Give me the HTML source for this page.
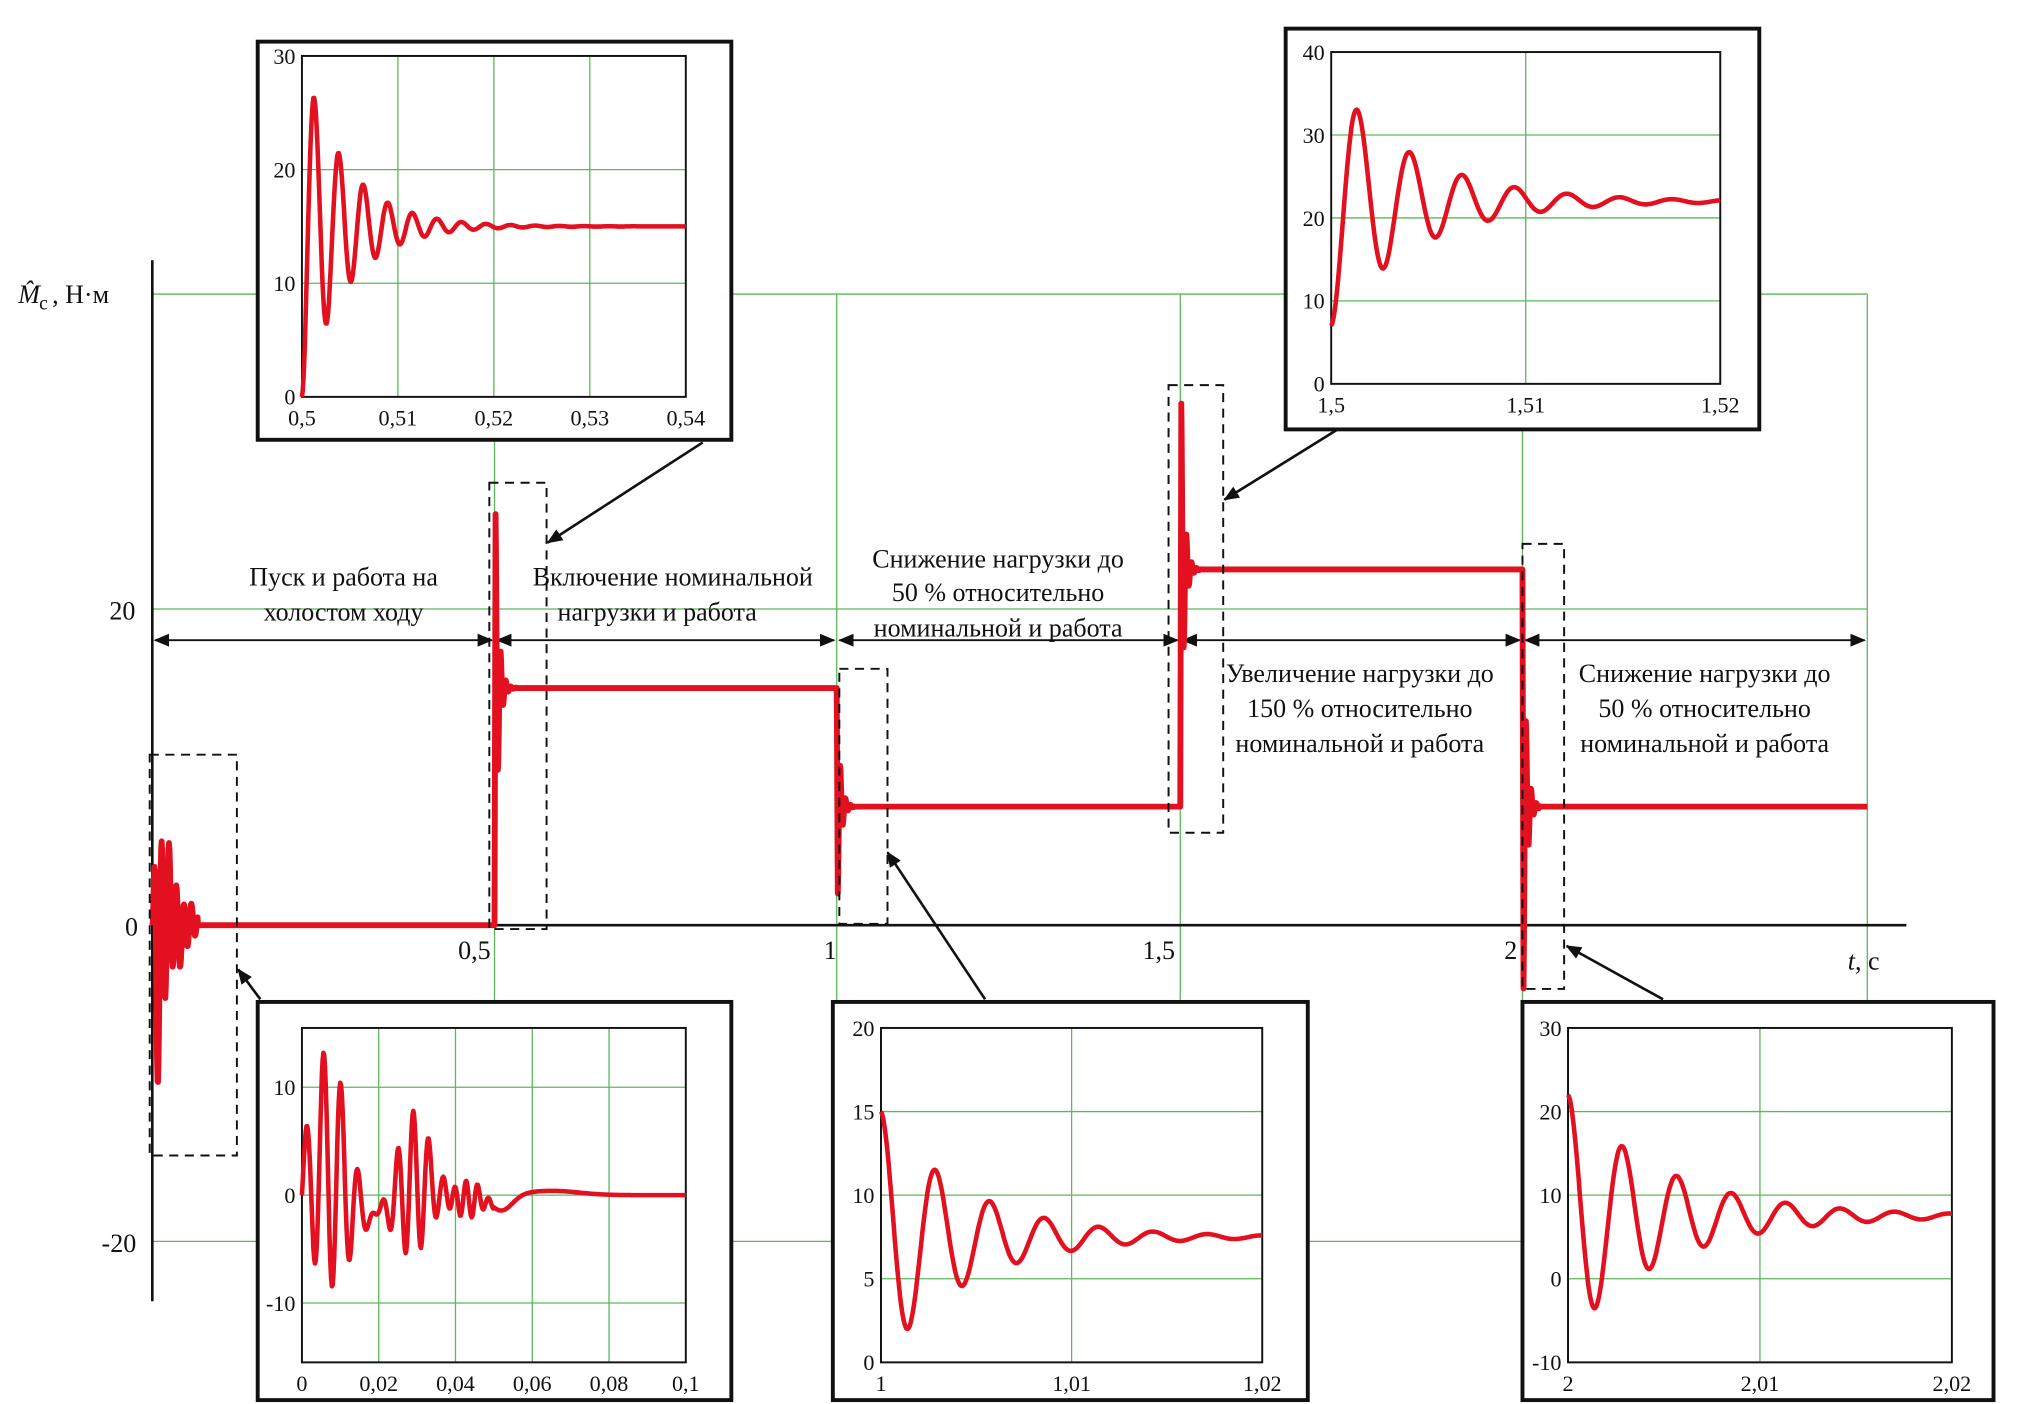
<!DOCTYPE html>
<html><head><meta charset="utf-8">
<style>
html,body{margin:0;padding:0;background:#fff;}
svg{display:block;}
text{font-family:"Liberation Serif",serif;fill:#111;}
</style></head>
<body>
<svg id="s" width="2017" height="1404" viewBox="0 0 1550 1079" xmlns="http://www.w3.org/2000/svg">
<defs>
<marker id="ae" markerWidth="12" markerHeight="10" refX="11" refY="5" orient="auto" markerUnits="userSpaceOnUse"><path d="M0,0 L12,5 L0,10 Z" fill="#111"/></marker>
<marker id="as" markerWidth="12" markerHeight="10" refX="1" refY="5" orient="auto" markerUnits="userSpaceOnUse"><path d="M12,0 L0,5 L12,10 Z" fill="#111"/></marker>
</defs>
<g stroke="#5cb85c" stroke-width="1" fill="none">
<line x1="117" y1="226" x2="1435" y2="226"/>
<line x1="117" y1="468" x2="1435" y2="468"/>
<line x1="117" y1="954" x2="1435" y2="954"/>
<line x1="380" y1="226" x2="380" y2="954"/>
<line x1="643" y1="226" x2="643" y2="954"/>
<line x1="907" y1="226" x2="907" y2="954"/>
<line x1="1170" y1="226" x2="1170" y2="954"/>
<line x1="1435" y1="226" x2="1435" y2="954"/>
</g>
<g stroke="#111" stroke-width="2" fill="none">
<line x1="117" y1="200" x2="117" y2="1000"/>
<line x1="117" y1="711" x2="1465" y2="711"/>
</g>
<text x="14" y="233" font-size="20" font-style="italic">M̂</text><text x="30" y="238" font-size="15">c</text><text x="40" y="233" font-size="20">, Н·м</text>
<text x="84" y="476" font-size="20">20</text>
<text x="96" y="719" font-size="20">0</text>
<text x="78" y="962" font-size="20">-20</text>
<text x="352" y="737" font-size="20">0,5</text>
<text x="633" y="737" font-size="20">1</text>
<text x="878" y="737" font-size="20">1,5</text>
<text x="1156" y="737" font-size="20">2</text>
<text x="1420" y="745" font-size="20"><tspan font-style="italic">t</tspan>, с</text>
<g stroke="#111" stroke-width="1.5" marker-start="url(#as)" marker-end="url(#ae)">
<line x1="119" y1="492" x2="378" y2="492"/>
<line x1="382" y1="492" x2="641" y2="492"/>
<line x1="645" y1="492" x2="905" y2="492"/>
<line x1="909" y1="492" x2="1168" y2="492"/>
<line x1="1172" y1="492" x2="1433" y2="492"/>
</g>
<g font-size="20" text-anchor="middle">
<text x="264" y="450">Пуск и работа на</text><text x="264" y="477">холостом ходу</text>
<text x="517" y="450">Включение номинальной</text><text x="505" y="477">нагрузки и работа</text>
<text x="767" y="436">Снижение нагрузки до</text><text x="767" y="462">50 % относительно</text><text x="767" y="489">номинальной и работа</text>
<text x="1045" y="524">Увеличение нагрузки до</text><text x="1045" y="551">150 % относительно</text><text x="1045" y="578">номинальной и работа</text>
<text x="1310" y="524">Снижение нагрузки до</text><text x="1310" y="551">50 % относительно</text><text x="1310" y="578">номинальной и работа</text>
</g>
<g id="main"></g>
<g stroke="#111" stroke-width="1.5" fill="none" stroke-dasharray="7,5">
<rect x="115" y="580" width="67" height="308"/>
<rect x="376" y="371" width="44" height="343"/>
<rect x="645" y="514" width="37" height="196"/>
<rect x="898" y="296" width="42" height="344"/>
<rect x="1170" y="418" width="32" height="342"/>
</g>
<g stroke="#111" stroke-width="2" marker-end="url(#ae)">
<line x1="540" y1="340" x2="421" y2="417"/>
<line x1="1028" y1="330" x2="941" y2="384"/>
<line x1="200" y1="768" x2="183" y2="745"/>
<line x1="757" y1="768" x2="682" y2="655"/>
<line x1="1278" y1="768" x2="1204" y2="727"/>
</g>
<g id="insets"></g>
</svg>
<script>
var NS="http://www.w3.org/2000/svg";
function el(p,t,a,txt){var e=document.createElementNS(NS,t);for(var k in a)e.setAttribute(k,a[k]);if(txt!=null)e.textContent=txt;p.appendChild(e);return e;}
var main=document.getElementById('main');
function Y(v){return 711-v*12.15;}
var pts=[];
function add(x,v){pts.push(x.toFixed(1)+","+Y(v).toFixed(1));}
add(117,0);
for(var x=117;x<152;x+=0.4){var t=(x-117);var env=Math.exp(-t/13);add(x,11*env*Math.sin(t*1.1)*(t<3?t/3:1)-3*env*Math.sin(t*0.35));}
add(152,0);add(380,0);
function step(x0,from,to,peak,len){
  add(x0,from);add(x0+0.8,peak);
  var A=peak-to;
  for(var t=0.8;t<len;t+=0.3){add(x0+t,to+A*Math.exp(-(t-0.8)/2.5)*Math.cos((t-0.8)*1.6));}
  add(x0+len,to);
}
step(380,0,15,26,18);add(643,15);
step(643,15,7.5,2,14);add(907,7.5);
step(907,7.5,22.5,33,16);add(1170,22.5);
step(1170,22.5,7.5,-4,14);add(1435,7.5);
el(main,'polyline',{points:pts.join(' '),fill:'none',stroke:'#e3101f','stroke-width':4.5,'stroke-linejoin':'round'});

var G=document.getElementById('insets');
function inset(box,pl,ymin,ymax,yt,xl,f){
 el(G,'rect',{x:box[0],y:box[1],width:box[2]-box[0],height:box[3]-box[1],fill:'#fff',stroke:'#111','stroke-width':3});
 var x0=pl[0],y0=pl[1],x1=pl[2],y1=pl[3];
 function py(v){return y1-(v-ymin)/(ymax-ymin)*(y1-y0);}
 for(var i=1;i<xl.length-1;i++){var gx=x0+(x1-x0)*i/(xl.length-1);el(G,'line',{x1:gx,y1:y0,x2:gx,y2:y1,stroke:'#5cb85c','stroke-width':1});}
 yt.forEach(function(v){var gy=py(v);if(gy>y0+1&&gy<y1-1)el(G,'line',{x1:x0,y1:gy,x2:x1,y2:gy,stroke:'#5cb85c','stroke-width':1});
   el(G,'text',{x:x0-5,y:gy+6,'font-size':17,'text-anchor':'end'},String(v));});
 el(G,'rect',{x:x0,y:y0,width:x1-x0,height:y1-y0,fill:'none',stroke:'#111','stroke-width':1.5});
 xl.forEach(function(s,i){var gx=x0+(x1-x0)*i/(xl.length-1);el(G,'text',{x:gx,y:y1+22,'font-size':17,'text-anchor':'middle'},s);});
 var p=[];for(var u=0;u<=1.0001;u+=0.002){p.push((x0+u*(x1-x0)).toFixed(1)+","+py(f(u)).toFixed(1));}
 el(G,'polyline',{points:p.join(' '),fill:'none',stroke:'#e3101f','stroke-width':3.5,'stroke-linejoin':'round'});
}
inset([198,32,562,338],[232,43,527,305],0,30,[0,10,20,30],['0,5','0,51','0,52','0,53','0,54'],function(u){var w=2*Math.PI/0.064;var v=15-15*Math.exp(-u*8.8)*Math.cos(u*w);return Math.max(0,v);});
inset([988,22,1352,330],[1023,40,1322,295],0,40,[0,10,20,30,40],['1,5','1,51','1,52'],function(u){var w=2*Math.PI/0.135;return 22-15*Math.exp(-u*4.6)*Math.cos(u*w);});
inset([198,770,562,1076],[232,790,527,1047],-15.5,15.5,[-10,0,10],['0','0,02','0,04','0,06','0,08','0,1'],function(u){
 var t=u*0.1;var v=0;
 if(t<0.05){var e1=Math.exp(-Math.pow((t-0.007)/0.007,2));var e2=Math.exp(-Math.pow((t-0.029)/0.006,2))*0.75;var e3=Math.exp(-Math.pow((t-0.043)/0.005,2))*0.3;
 v=11*e1*Math.sin(t*2*Math.PI/0.0045)+9*e2*Math.sin(t*2*Math.PI/0.004)+6*e3*Math.sin(t*2*Math.PI/0.003)+3*Math.sin(t*2*Math.PI/0.025)*(1-t/0.05);}
 v+= -1.5*Math.exp(-Math.pow((t-0.052)/0.004,2))+0.4*Math.exp(-Math.pow((t-0.065)/0.01,2));
 return v;});
inset([640,770,1005,1076],[677,790,970,1047],0,20,[0,5,10,15,20],['1','1,01','1,02'],function(u){var w=2*Math.PI/0.143;return 7.5+7.5*Math.exp(-u*4.4)*Math.cos(u*w);});
inset([1170,770,1532,1076],[1205,790,1500,1047],-10,30,[-10,0,10,20,30],['2','2,01','2,02'],function(u){var w=2*Math.PI/0.142;return 7.5+14.5*Math.exp(-u*3.9)*Math.cos(u*w);});
</script>
</body></html>
